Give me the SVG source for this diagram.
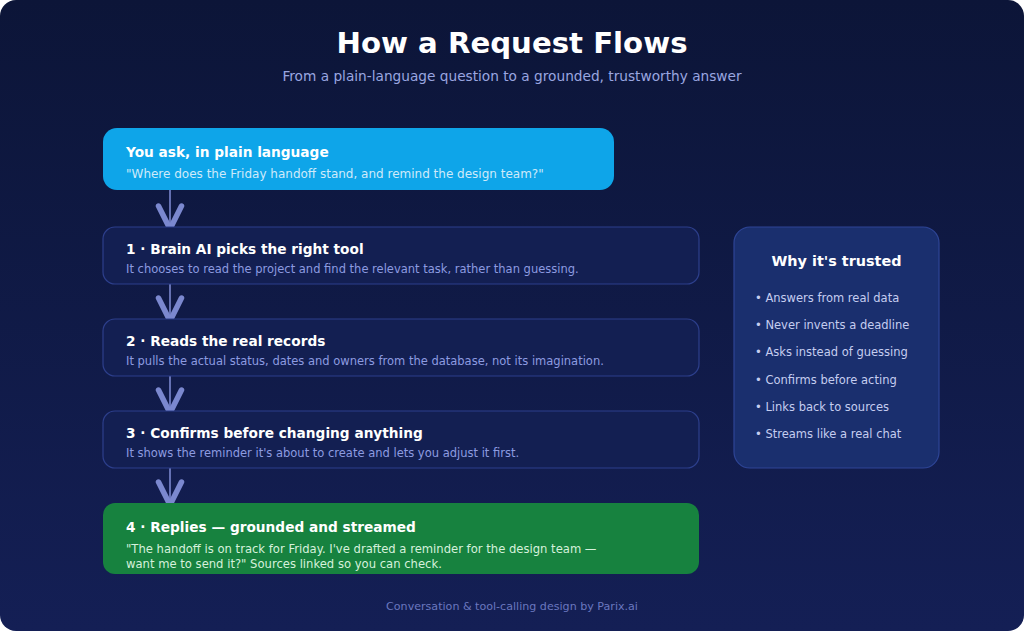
<svg xmlns="http://www.w3.org/2000/svg" width="1024" height="631" viewBox="0 0 1024 631">
<defs>
<linearGradient id="bg" x1="0" y1="0" x2="0" y2="1">
<stop offset="0" stop-color="#0c1538"/>
<stop offset="1" stop-color="#141f55"/>
</linearGradient>
<marker id="ah" viewBox="0 0 28 30" refX="26" refY="15" markerWidth="28" markerHeight="30" markerUnits="userSpaceOnUse" orient="auto">
<path d="M3,3.5 L26,15 L3,26.5" fill="none" stroke="#7b88cf" stroke-width="5.5" stroke-linecap="round" stroke-linejoin="miter"/>
</marker>
<style>
text{font-family:"DejaVu Sans","Liberation Sans",sans-serif}
.t{font-weight:bold;font-size:13.7px;fill:#ffffff}
.s{font-size:11.5px;fill:#8d9be0}
.step{fill:#131f52;stroke:#2d3f8c;stroke-width:1.2}
.b{font-size:11.5px;fill:#c5cdf0}
.conn{stroke:#7b88cf;stroke-width:1.6;fill:none}
</style>
</defs>
<rect x="0" y="0" width="1024" height="631" rx="16" fill="url(#bg)"/>
<text x="512" y="53" text-anchor="middle" font-size="29.2" font-weight="bold" fill="#ffffff">How a Request Flows</text>
<text x="512" y="81" text-anchor="middle" font-size="13.7" fill="#9aa6e0">From a plain-language question to a grounded, trustworthy answer</text>

<g id="connectors">
<line class="conn" x1="170" y1="190" x2="170" y2="229" marker-end="url(#ah)"/>
<line class="conn" x1="170" y1="284" x2="170" y2="321" marker-end="url(#ah)"/>
<line class="conn" x1="170" y1="376" x2="170" y2="413" marker-end="url(#ah)"/>
<line class="conn" x1="170" y1="468" x2="170" y2="505" marker-end="url(#ah)"/>
</g>

<g id="ask">
<rect x="103" y="128" width="511" height="62" rx="14" fill="#0ea5e9"/>
<text class="t" x="126" y="157">You ask, in plain language</text>
<text x="126" y="178" font-size="12" fill="#cfeafa">"Where does the Friday handoff stand, and remind the design team?"</text>
</g>

<g id="step1">
<rect class="step" x="103" y="227" width="596" height="57" rx="12"/>
<text class="t" x="126" y="254">1 · Brain AI picks the right tool</text>
<text class="s" x="126" y="273">It chooses to read the project and find the relevant task, rather than guessing.</text>
</g>

<g id="step2">
<rect class="step" x="103" y="319" width="596" height="57" rx="12"/>
<text class="t" x="126" y="346">2 · Reads the real records</text>
<text class="s" x="126" y="365">It pulls the actual status, dates and owners from the database, not its imagination.</text>
</g>

<g id="step3">
<rect class="step" x="103" y="411" width="596" height="57" rx="12"/>
<text class="t" x="126" y="438">3 · Confirms before changing anything</text>
<text class="s" x="126" y="457">It shows the reminder it's about to create and lets you adjust it first.</text>
</g>

<g id="step4">
<rect x="103" y="503" width="596" height="71" rx="12" fill="#17823f"/>
<text class="t" x="126" y="532">4 · Replies — grounded and streamed</text>
<text x="126" y="553" font-size="11.6" fill="#d6f1dc">"The handoff is on track for Friday. I've drafted a reminder for the design team —</text>
<text x="126" y="568" font-size="11.6" fill="#d6f1dc">want me to send it?" Sources linked so you can check.</text>
</g>

<g id="trusted">
<rect x="734" y="227" width="205" height="241" rx="16" fill="#1a2f6e" stroke="#2e4596" stroke-width="1.2"/>
<text x="836.5" y="266" text-anchor="middle" font-size="14.4" font-weight="bold" fill="#ffffff">Why it's trusted</text>
<text class="b" x="755" y="302">• Answers from real data</text>
<text class="b" x="755" y="329">• Never invents a deadline</text>
<text class="b" x="755" y="356">• Asks instead of guessing</text>
<text class="b" x="755" y="384">• Confirms before acting</text>
<text class="b" x="755" y="411">• Links back to sources</text>
<text class="b" x="755" y="438">• Streams like a real chat</text>
</g>

<text x="512" y="610" text-anchor="middle" font-size="11.1" fill="#6a77bf">Conversation &amp; tool-calling design by Parix.ai</text>
</svg>
